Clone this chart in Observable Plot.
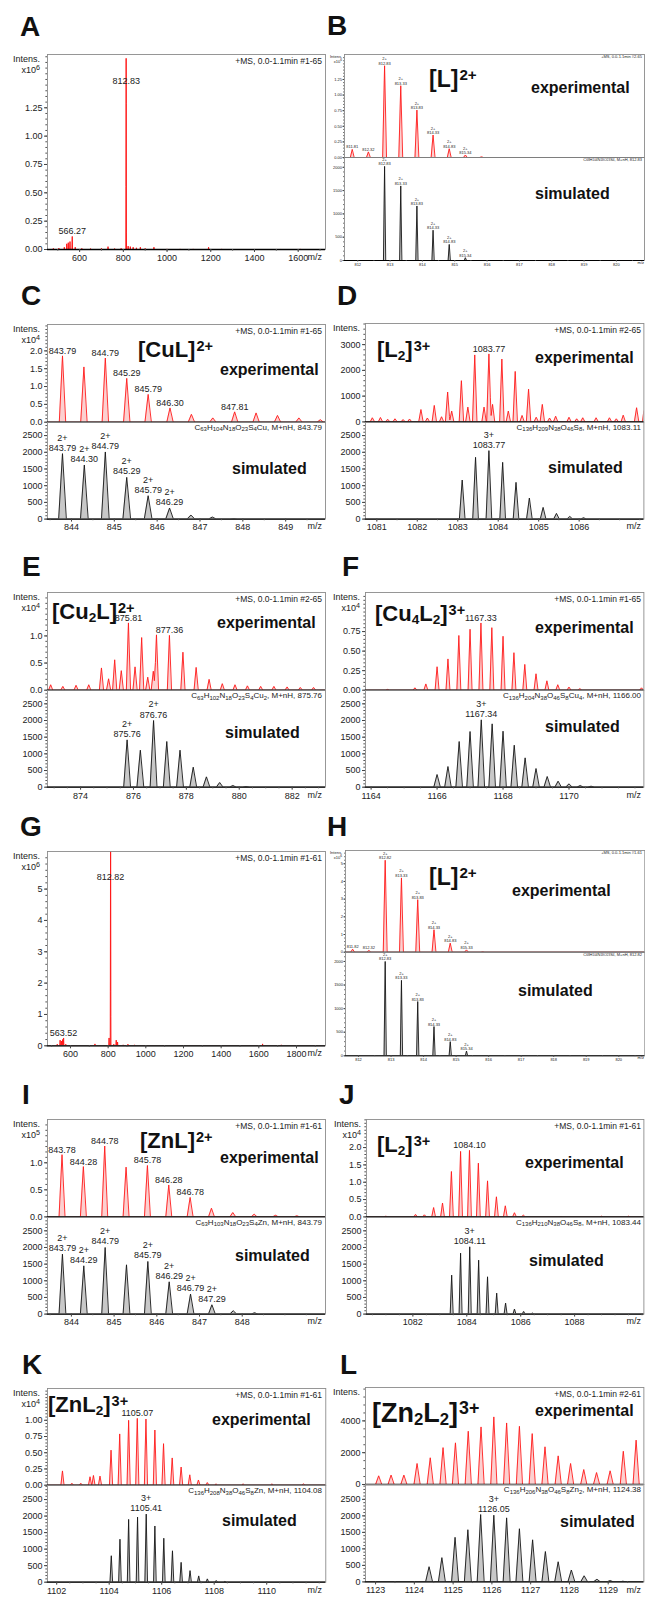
<!DOCTYPE html>
<html><head><meta charset="utf-8">
<script src="https://cdn.jsdelivr.net/npm/d3@7"></script>
<script src="https://cdn.jsdelivr.net/npm/@observablehq/plot@0.6"></script>
<style>
html,body{margin:0;padding:0;background:#fff;}
#fig{position:relative;width:645px;height:1597px;overflow:hidden;font-family:"Liberation Sans",Arial,sans-serif;background:#fff;}
.t{position:absolute;white-space:nowrap;line-height:1;color:#111;}
.b{font-weight:bold;}
.ion sup{font-size:0.66em;position:relative;top:-0.45em;vertical-align:baseline;margin-left:1px;}
.ion sub{font-size:0.62em;position:relative;top:0.18em;vertical-align:baseline;}
.sm{color:#222;}
.sm sub{font-size:0.75em;position:relative;top:0.25em;vertical-align:baseline;}
.sm sup{font-size:0.8em;position:relative;top:-0.45em;vertical-align:baseline;}
</style></head>
<body><div id="fig"></div>
<script>
// ---------------- data ----------------
// A: full scan (x10^6)
const aMz  = [480, 505, 530, 541, 548, 556, 566.27, 580, 610, 650, 700, 730, 760, 790, 812.83, 813.33, 822, 832, 845, 860, 878, 900, 940, 1000, 1060, 1120, 1190, 1250, 1400, 1520, 1610];
const aInt = [0.01, 0.012, 0.02, 0.05, 0.06, 0.07, 0.115, 0.02, 0.01, 0.008, 0.01, 0.025, 0.008, 0.01, 1.44, 0.40, 0.03, 0.025, 0.02, 0.015, 0.02, 0.01, 0.02, 0.005, 0.005, 0.005, 0.02, 0.005, 0.004, 0.004, 0.005];
const aLabels = [[812.83, "812.83"], [566.27, "566.27"]];
// B: [L]2+ zoom (x10^6 / simulated)
const bExpMz  = [811.83, 812.33, 812.83, 813.33, 813.83, 814.33, 814.83, 815.33, 815.83];
const bExpInt = [0.13, 0.09, 1.47, 1.15, 0.76, 0.36, 0.14, 0.04, 0.01];
const bSimMz  = [812.83, 813.33, 813.83, 814.33, 814.83, 815.33];
const bSimInt = [2020, 1600, 1170, 650, 345, 60];
// C: [CuL]2+
const cExpMz  = [843.79, 844.29, 844.79, 845.29, 845.79, 846.30, 846.80, 847.30, 847.81, 848.31, 848.81, 849.31, 849.81];
const cExpInt = [1.86, 1.55, 1.80, 1.23, 0.78, 0.40, 0.22, 0.12, 0.29, 0.26, 0.19, 0.12, 0.07];
const cSimMz  = [843.79, 844.30, 844.79, 845.29, 845.79, 846.29, 846.79, 847.29, 847.79];
const cSimInt = [1960, 1620, 2010, 1250, 700, 330, 120, 60, 15];
// D: [L2]3+
const dExpMz  = [1080.89, 1081.09, 1081.27, 1081.45, 1081.65, 1081.81, 1082.09, 1082.25, 1082.42, 1082.60, 1082.75, 1082.85, 1083.09, 1083.25, 1083.42, 1083.65, 1083.77, 1083.86, 1084.09, 1084.25, 1084.42, 1084.59, 1084.75, 1084.94, 1085.09, 1085.27, 1085.42, 1085.75, 1085.94, 1086.09, 1086.42, 1086.75, 1086.92, 1087.09, 1087.42, 1087.62];
const dExpInt = [160, 170, 100, 120, 90, 110, 480, 150, 640, 200, 1160, 420, 1600, 575, 2600, 575, 2640, 680, 2440, 420, 1960, 250, 1270, 180, 680, 150, 220, 180, 120, 160, 160, 160, 120, 260, 550, 680];
const dSimMz  = [1083.11, 1083.44, 1083.77, 1084.11, 1084.44, 1084.77, 1085.11, 1085.44, 1085.77, 1086.11];
const dSimInt = [1170, 1850, 2050, 1700, 1100, 630, 350, 170, 80, 40];
// E: [Cu2L]2+
const eExpMz  = [872.87, 873.33, 873.83, 874.31, 874.79, 875.06, 875.29, 875.54, 875.81, 876.06, 876.31, 876.54, 876.75, 876.87, 877.36, 877.87, 878.37, 878.86, 879.36, 879.84, 880.31, 880.81, 881.31, 881.81, 882.31, 882.81];
const eExpInt = [0.10, 0.07, 0.09, 0.10, 0.41, 0.21, 0.56, 0.36, 1.24, 0.43, 0.97, 0.24, 0.35, 1.02, 1.01, 0.70, 0.42, 0.20, 0.12, 0.10, 0.08, 0.07, 0.07, 0.06, 0.05, 0.05];
const eSimMz  = [875.76, 876.26, 876.76, 877.26, 877.76, 878.26, 878.76, 879.26, 879.76, 880.26];
const eSimInt = [1420, 1110, 2000, 1370, 1110, 600, 310, 140, 50, 20];
// F: [Cu4L2]3+
const fExpMz  = [1164.50, 1165.33, 1165.66, 1166.00, 1166.33, 1166.66, 1167.00, 1167.33, 1167.66, 1168.00, 1168.33, 1168.66, 1169.00, 1169.33, 1169.66, 1170.00, 1170.33, 1172.20];
const fExpInt = [0.01, 0.03, 0.08, 0.30, 0.40, 0.70, 0.78, 0.86, 0.80, 0.69, 0.48, 0.33, 0.21, 0.12, 0.07, 0.04, 0.02, 0.03];
const fSimMz  = [1166.00, 1166.33, 1166.67, 1167.00, 1167.34, 1167.67, 1168.00, 1168.34, 1168.67, 1169.00, 1169.34, 1169.67, 1170.00, 1170.34, 1170.67];
const fSimInt = [380, 620, 1370, 1670, 2020, 1900, 1680, 1260, 880, 560, 320, 180, 100, 50, 30];
// G: full scan (x10^6)
const gMz  = [500, 530, 545, 552, 558, 563.52, 575, 620, 700, 730, 780, 805, 812.82, 813.32, 830, 843, 850, 880, 905, 940, 1090, 1250, 1620, 1720];
const gInt = [0.02, 0.05, 0.18, 0.15, 0.20, 0.25, 0.05, 0.02, 0.02, 0.06, 0.02, 0.25, 5.23, 2.80, 0.05, 0.18, 0.12, 0.03, 0.05, 0.03, 0.02, 0.01, 0.06, 0.03];
const gLabels = [[812.82, "812.82"], [563.52, "563.52"]];
// H: [L]2+ zoom
const hExpMz  = [811.82, 812.32, 812.82, 813.32, 813.82, 814.32, 814.82, 815.32, 815.82];
const hExpInt = [0.17, 0.10, 5.20, 4.20, 2.97, 1.27, 0.51, 0.13, 0.02];
const hSimMz  = [812.82, 813.32, 813.82, 814.32, 814.82, 815.32];
const hSimInt = [2000, 1600, 1150, 620, 300, 100];
// I: [ZnL]2+
const iExpMz  = [843.78, 844.28, 844.78, 845.28, 845.78, 846.28, 846.78, 847.28, 847.78, 848.28, 848.78, 849.28];
const iExpInt = [1.15, 0.93, 1.31, 0.92, 0.95, 0.59, 0.36, 0.16, 0.08, 0.05, 0.03, 0.02];
const iSimMz  = [843.79, 844.29, 844.79, 845.29, 845.79, 846.29, 846.79, 847.29, 847.79, 848.29];
const iSimInt = [1800, 1450, 2000, 1480, 1580, 970, 600, 280, 100, 40];
// J: [L2]3+
const jExpMz  = [1081.00, 1082.10, 1082.43, 1082.77, 1083.10, 1083.43, 1083.77, 1084.10, 1084.43, 1084.77, 1085.10, 1085.43, 1085.77, 1086.10, 1087.50, 1089.00, 1090.00];
const jExpInt = [0.02, 0.07, 0.06, 0.27, 0.40, 1.31, 1.89, 1.92, 1.55, 1.04, 0.58, 0.32, 0.12, 0.05, 0.01, 0.02, 0.02];
const jSimMz  = [1083.44, 1083.77, 1084.11, 1084.44, 1084.77, 1085.11, 1085.44, 1085.77, 1086.11, 1086.44];
const jSimInt = [1170, 1830, 2020, 1620, 1120, 630, 330, 150, 80, 30];
// K: [ZnL2]3+
const kExpMz  = [1102.22, 1102.58, 1102.92, 1103.27, 1103.40, 1103.65, 1104.07, 1104.40, 1104.74, 1105.07, 1105.40, 1105.74, 1106.07, 1106.40, 1106.74, 1107.07, 1107.40, 1107.74, 1108.07, 1109.10, 1110.20, 1111.40];
const kExpInt = [0.22, 0.03, 0.03, 0.13, 0.15, 0.14, 0.54, 0.79, 1.00, 1.03, 1.02, 0.85, 0.64, 0.42, 0.28, 0.16, 0.08, 0.04, 0.02, 0.02, 0.02, 0.02];
const kSimMz  = [1104.08, 1104.41, 1104.74, 1105.08, 1105.41, 1105.74, 1106.08, 1106.41, 1106.74, 1107.08, 1107.41, 1107.74, 1108.08, 1108.41];
const kSimInt = [800, 1300, 1900, 1970, 2060, 1700, 1330, 950, 600, 350, 190, 100, 50, 25];
// L: [Zn2L2]3+
const lExpMz  = [1123.08, 1123.40, 1123.73, 1124.07, 1124.41, 1124.74, 1125.06, 1125.39, 1125.72, 1126.05, 1126.38, 1126.71, 1127.04, 1127.37, 1127.71, 1128.03, 1128.37, 1128.70, 1129.05, 1129.39, 1129.72];
const lExpInt = [545, 590, 590, 1320, 1680, 2320, 2620, 3350, 3620, 4250, 3870, 3660, 3200, 2370, 1800, 1320, 940, 750, 860, 2090, 2790];
const lSimMz  = [1124.38, 1124.71, 1125.05, 1125.38, 1125.71, 1126.05, 1126.38, 1126.71, 1127.05, 1127.38, 1127.71, 1128.05, 1128.38, 1128.71, 1129.05, 1129.38];
const lSimInt = [460, 735, 1350, 1580, 2040, 2020, 1940, 1610, 1275, 920, 610, 360, 185, 80, 40, 20];

// tick label sets
const simTicks = [0, 500, 1000, 1500, 2000, 2500];
const fullTicksA = [600, 800, 1000, 1200, 1400, 1600];
const fullTicksG = [600, 800, 1000, 1200, 1400, 1600, 1800];

// ---------------- rendering helpers ----------------
const fig = document.getElementById("fig");
const FONT = "Liberation Sans, Arial, sans-serif";
const f0 = d => String(d), f1 = d => d.toFixed(1), f2 = d => d.toFixed(2);

function profile(mz, inten, w, dom) {
  const xs = new Set([dom[0], dom[1]]);
  mz.forEach(m => { xs.add(m - w); xs.add(m); xs.add(m + w); });
  const arr = [...xs].filter(x => x >= dom[0] && x <= dom[1]).sort((a, b) => a - b);
  return arr.map(x => ({mz: x, i: d3.sum(mz, (m, k) => Math.max(0, 1 - Math.abs(x - m) / w) * inten[k])}));
}
function peakAt(mz, inten, m) {
  let best = 0;
  mz.forEach((v, k) => { if (Math.abs(v - m) < Math.abs(mz[best] - m)) best = k; });
  return inten[best];
}
function half(o) {
  const [x0, y0, x1, y1] = o.box;
  const fs = o.fs || 9, tk = o.tk || 3, tp = o.tp || 2;
  const ml = 40, mr = 4, mt = 4, mb = o.xTicks ? 18 : 4;
  const exp = o.kind === "exp";
  const stroke = exp ? "#ff1a1a" : "#151515";
  const fill = exp ? "#fcd0d0" : "#c8c8c8";
  const data = profile(o.mz, o.int, o.w, o.xDomain);
  const labs = (o.labels || []).map(([m, t]) => ({mz: m, i: peakAt(o.mz, o.int, m), t}));
  const yMinor = d3.range(0, o.yDomain[1], o.yStep);
  const marks = [
    Plot.areaY(data, {x: "mz", y: "i", fill, clip: true}),
    Plot.lineY(data, {x: "mz", y: "i", stroke, strokeWidth: o.sw || 0.9, clip: true}),
    Plot.frame({stroke: "#8c8c8c", strokeWidth: 0.9}),
    Plot.ruleY([0], {stroke: "#000", strokeWidth: o.rw || 1.3}),
    Plot.axisY(yMinor, {tickFormat: () => "", tickSize: tk * 0.55, label: null, stroke: "#555"}),
    Plot.axisY(o.yTicks, {tickFormat: o.yFmt || f0, tickSize: tk, tickPadding: tp, label: null, fontSize: fs, stroke: "#444", fill: "#222"}),
    Plot.text(labs, {x: "mz", y: "i", text: "t", dy: o.ldy || -2, lineAnchor: "bottom", fontSize: fs, lineHeight: 1.12, fill: "#222"})
  ];
  if (o.xTicks) {
    const xMinor = d3.range(Math.ceil(o.xDomain[0] / o.xStep) * o.xStep, o.xDomain[1], o.xStep);
    marks.push(
      Plot.axisX(xMinor, {tickFormat: () => "", tickSize: tk * 0.55, label: null, stroke: "#555"}),
      Plot.axisX(o.xTicks, {tickFormat: f0, tickSize: tk, tickPadding: tp, label: null, fontSize: fs, stroke: "#444", fill: "#222"})
    );
  }
  const xOpts = {domain: o.xDomain, label: null};
  if (!o.xTicks) xOpts.axis = null;
  const svg = Plot.plot({
    width: x1 - x0 + ml + mr, height: y1 - y0 + mt + mb,
    marginLeft: ml, marginRight: mr, marginTop: mt, marginBottom: mb,
    x: xOpts, y: {domain: o.yDomain, label: null},
    style: {background: "transparent", overflow: "visible", fontFamily: FONT, fontSize: fs + "px", color: "#333"},
    marks
  });
  svg.style.position = "absolute";
  svg.style.left = (x0 - ml) + "px";
  svg.style.top = (y0 - mt) + "px";
  svg.style.maxWidth = "none";
  fig.appendChild(svg);
}
function T(html, x, base, size, cls, anchor) {
  const d = document.createElement("div");
  d.className = "t " + (cls || "");
  d.innerHTML = html;
  d.style.fontSize = size + "px";
  d.style.left = x + "px";
  d.style.top = (base - 0.8465 * size) + "px";
  if (anchor === "end") d.style.transform = "translateX(-100%)";
  if (anchor === "middle") d.style.transform = "translateX(-50%)";
  fig.appendChild(d);
}
const F = s => s.replace(/([A-Za-z])(\d+)/g, "$1<sub>$2</sub>");

// ---------------- panels ----------------
// A
half({box: [47, 54, 325, 249], xDomain: [453, 1725], yDomain: [0, 1.72], yTicks: [0, 0.25, 0.5, 0.75, 1, 1.25], yFmt: f2, yStep: 0.05,
  xTicks: fullTicksA, xStep: 100, mz: aMz, int: aInt, w: 1.3, kind: "exp", labels: aLabels, sw: 1});
// B
half({box: [344, 54, 644, 157], xDomain: [811.59, 820.87], yDomain: [0, 1.65], yTicks: [0, 0.25, 0.5, 0.75, 1, 1.25], yFmt: f2, yStep: 0.05,
  mz: bExpMz, int: bExpInt, w: 0.06, kind: "exp", fs: 4, tk: 1.5, tp: 1, rw: 1, ldy: -1,
  labels: [[811.83, "811.81"], [812.33, "812.32"], [812.83, "2+\n812.83"], [813.33, "2+\n813.33"], [813.83, "2+\n813.83"], [814.33, "2+\n814.33"], [814.83, "2+\n814.83"], [815.33, "2+\n815.34"]]});
half({box: [344, 157, 644, 260], xDomain: [811.59, 820.87], yDomain: [0, 2210], yTicks: [0, 500, 1000, 1500, 2000], yStep: 100,
  xTicks: [812, 813, 814, 815, 816, 817, 818, 819, 820], xStep: 0.5, mz: bSimMz, int: bSimInt, w: 0.035, kind: "sim", fs: 4, tk: 1.5, tp: 1, rw: 1, ldy: -1,
  labels: [[812.83, "2+\n812.83"], [813.33, "2+\n813.33"], [813.83, "2+\n813.83"], [814.33, "2+\n814.33"], [814.83, "2+\n814.83"], [815.33, "2+\n815.34"]]});
// C
half({box: [47, 324, 325, 421.7], xDomain: [843.44, 849.93], yDomain: [0, 2.74], yTicks: [0, 0.5, 1, 1.5, 2], yFmt: f1, yStep: 0.1,
  mz: cExpMz, int: cExpInt, w: 0.075, kind: "exp",
  labels: [[843.79, "843.79"], [844.79, "844.79"], [845.29, "845.29"], [845.79, "845.79"], [846.30, "846.30"], [847.81, "847.81"]]});
half({box: [47, 421.7, 325, 518.3], xDomain: [843.44, 849.93], yDomain: [0, 2892], yTicks: simTicks, yStep: 100,
  xTicks: [844, 845, 846, 847, 848, 849], xStep: 0.5, mz: cSimMz, int: cSimInt, w: 0.09, kind: "sim", ldy: -3,
  labels: [[843.79, "2+\n843.79"], [844.30, "2+\n844.30"], [844.79, "2+\n844.79"], [845.29, "2+\n845.29"], [845.79, "2+\n845.79"], [846.29, "2+\n846.29"]]});
// D
half({box: [365.3, 323.3, 643.7, 421.7], xDomain: [1080.72, 1087.60], yDomain: [0, 3820], yTicks: [0, 1000, 2000, 3000], yStep: 200,
  mz: dExpMz, int: dExpInt, w: 0.055, kind: "exp", labels: [[1083.77, "1083.77"]]});
half({box: [365.3, 421.7, 643.7, 518.3], xDomain: [1080.72, 1087.60], yDomain: [0, 2892], yTicks: simTicks, yStep: 100,
  xTicks: [1081, 1082, 1083, 1084, 1085, 1086], xStep: 0.5, mz: dSimMz, int: dSimInt, w: 0.07, kind: "sim", ldy: -3,
  labels: [[1083.77, "3+\n1083.77"]]});
// E
half({box: [47, 592.3, 325, 690], xDomain: [872.75, 883.26], yDomain: [0, 1.80], yTicks: [0, 0.5, 1.0], yFmt: f1, yStep: 0.1,
  mz: eExpMz, int: eExpInt, w: 0.08, kind: "exp", labels: [[875.81, "875.81"], [877.36, "877.36"]]});
half({box: [47, 690, 325, 786.7], xDomain: [872.75, 883.26], yDomain: [0, 2900], yTicks: simTicks, yStep: 100,
  xTicks: [874, 876, 878, 880, 882], xStep: 0.5, mz: eSimMz, int: eSimInt, w: 0.13, kind: "sim", ldy: -3,
  labels: [[875.76, "2+\n875.76"], [876.76, "2+\n876.76"]]});
// F
half({box: [365.3, 592.3, 643.7, 690], xDomain: [1163.83, 1172.27], yDomain: [0, 1.25], yTicks: [0, 0.25, 0.5, 0.75], yFmt: f2, yStep: 0.05,
  mz: fExpMz, int: fExpInt, w: 0.06, kind: "exp", labels: [[1167.33, "1167.33"]]});
half({box: [365.3, 690, 643.7, 786.7], xDomain: [1163.83, 1172.27], yDomain: [0, 2900], yTicks: simTicks, yStep: 100,
  xTicks: [1164, 1166, 1168, 1170], xStep: 0.5, mz: fSimMz, int: fSimInt, w: 0.1, kind: "sim", ldy: -3,
  labels: [[1167.34, "3+\n1167.34"]]});
// G
half({box: [47, 850.7, 325, 1045], xDomain: [478, 1954], yDomain: [0, 6.2], yTicks: [0, 1, 2, 3, 4, 5], yStep: 0.2,
  xTicks: fullTicksG, xStep: 100, mz: gMz, int: gInt, w: 1.5, kind: "exp", labels: gLabels, sw: 1});
// H
half({box: [344.7, 850, 644, 951.7], xDomain: [811.6, 820.8], yDomain: [0, 5.75], yTicks: [0, 1, 2, 3, 4, 5], yStep: 0.2,
  mz: hExpMz, int: hExpInt, w: 0.06, kind: "exp", fs: 4, tk: 1.5, tp: 1, rw: 1, ldy: -1,
  labels: [[811.82, "811.82"], [812.32, "812.32"], [812.82, "2+\n812.82"], [813.32, "2+\n813.33"], [813.82, "2+\n813.83"], [814.32, "2+\n814.33"], [814.82, "2+\n814.83"], [815.32, "2+\n815.33"]]});
half({box: [344.7, 951.7, 644, 1055], xDomain: [811.6, 820.8], yDomain: [0, 2190], yTicks: [0, 500, 1000, 1500, 2000], yStep: 100,
  xTicks: [812, 813, 814, 815, 816, 817, 818, 819, 820], xStep: 0.5, mz: hSimMz, int: hSimInt, w: 0.035, kind: "sim", fs: 4, tk: 1.5, tp: 1, rw: 1, ldy: -1,
  labels: [[812.82, "2+\n812.83"], [813.32, "2+\n813.33"], [813.82, "2+\n813.83"], [814.32, "2+\n814.33"], [814.82, "2+\n814.83"], [815.32, "2+\n815.34"]]});
// I
half({box: [47, 1119.3, 325, 1216.7], xDomain: [843.44, 849.95], yDomain: [0, 1.80], yTicks: [0, 0.5, 1.0], yFmt: f1, yStep: 0.1,
  mz: iExpMz, int: iExpInt, w: 0.07, kind: "exp",
  labels: [[843.78, "843.78"], [844.28, "844.28"], [844.78, "844.78"], [845.78, "845.78"], [846.28, "846.28"], [846.78, "846.78"]]});
half({box: [47, 1216.7, 325, 1313.3], xDomain: [843.44, 849.95], yDomain: [0, 2900], yTicks: simTicks, yStep: 100,
  xTicks: [844, 845, 846, 847, 848], xStep: 0.5, mz: iSimMz, int: iSimInt, w: 0.08, kind: "sim", ldy: -3,
  labels: [[843.79, "2+\n843.79"], [844.29, "2+\n844.29"], [844.79, "2+\n844.79"], [845.79, "2+\n845.79"], [846.29, "2+\n846.29"], [846.79, "2+\n846.79"], [847.29, "2+\n847.29"]]});
// J
half({box: [366.3, 1119.3, 643.7, 1216.7], xDomain: [1080.28, 1090.57], yDomain: [0, 2.81], yTicks: [0, 0.5, 1.0, 1.5, 2.0], yFmt: f1, yStep: 0.1,
  mz: jExpMz, int: jExpInt, w: 0.07, kind: "exp", labels: [[1084.10, "1084.10"]]});
half({box: [366.3, 1216.7, 643.7, 1313.3], xDomain: [1080.28, 1090.57], yDomain: [0, 2900], yTicks: simTicks, yStep: 100,
  xTicks: [1082, 1084, 1086, 1088], xStep: 0.5, mz: jSimMz, int: jSimInt, w: 0.055, kind: "sim", ldy: -3,
  labels: [[1084.11, "3+\n1084.11"]]});
// K
half({box: [46.7, 1388.3, 325, 1485], xDomain: [1101.65, 1112.25], yDomain: [0, 1.49], yTicks: [0, 0.25, 0.5, 0.75, 1.0], yFmt: f2, yStep: 0.05,
  mz: kExpMz, int: kExpInt, w: 0.06, kind: "exp", labels: [[1105.07, "1105.07"]], ldy: -2});
half({box: [46.7, 1485, 325, 1581.7], xDomain: [1101.65, 1112.25], yDomain: [0, 2925], yTicks: simTicks, yStep: 100,
  xTicks: [1102, 1104, 1106, 1108, 1110], xStep: 0.5, mz: kSimMz, int: kSimInt, w: 0.05, kind: "sim", ldy: -3,
  labels: [[1105.41, "3+\n1105.41"]]});
// L
half({box: [365.3, 1387.3, 643.7, 1484.3], xDomain: [1122.74, 1129.92], yDomain: [0, 6100], yTicks: [0, 2000, 4000], yStep: 500,
  mz: lExpMz, int: lExpInt, w: 0.08, kind: "exp", labels: []});
half({box: [365.3, 1484.3, 643.7, 1581.7], xDomain: [1122.74, 1129.92], yDomain: [0, 2950], yTicks: simTicks, yStep: 100,
  xTicks: [1123, 1124, 1125, 1126, 1127, 1128, 1129], xStep: 0.5, mz: lSimMz, int: lSimInt, w: 0.09, kind: "sim", ldy: -3,
  labels: [[1126.05, "3+\n1126.05"]]});

// ---------------- text ----------------
const letters = [["A", 20, 37], ["B", 327, 36], ["C", 21, 306], ["D", 337, 306], ["E", 22, 577], ["F", 342, 577],
  ["G", 20, 837], ["H", 327, 837], ["I", 22, 1105], ["J", 339, 1105], ["K", 22, 1375], ["L", 340, 1375]];
letters.forEach(([s, x, y]) => T(s, x, y, 28, "b"));

const ions = [["[L]<sup>2+</sup>", 429, 87, 23], ["[CuL]<sup>2+</sup>", 138, 358, 22], ["[L<sub>2</sub>]<sup>3+</sup>", 377, 358, 22],
  ["[Cu<sub>2</sub>L]<sup>2+</sup>", 52, 620, 22], ["[Cu<sub>4</sub>L<sub>2</sub>]<sup>3+</sup>", 375, 622, 22], ["[L]<sup>2+</sup>", 429, 885, 23],
  ["[ZnL]<sup>2+</sup>", 140, 1149, 22], ["[L<sub>2</sub>]<sup>3+</sup>", 377, 1153, 22], ["[ZnL<sub>2</sub>]<sup>3+</sup>", 48, 1413, 22],
  ["[Zn<sub>2</sub>L<sub>2</sub>]<sup>3+</sup>", 372, 1423, 27]];
ions.forEach(([s, x, y, sz]) => T(s, x, y, sz, "b ion"));

const kinds = [["experimental", 531, 94], ["simulated", 535, 200], ["experimental", 220, 376], ["simulated", 232, 475],
  ["experimental", 535, 364], ["simulated", 548, 474], ["experimental", 217, 629], ["simulated", 225, 739],
  ["experimental", 535, 634], ["simulated", 545, 733], ["experimental", 512, 897], ["simulated", 518, 997],
  ["experimental", 220, 1164], ["simulated", 235, 1262], ["experimental", 525, 1169], ["simulated", 529, 1267],
  ["experimental", 212, 1426], ["simulated", 222, 1527], ["experimental", 535, 1417], ["simulated", 560, 1528]];
kinds.forEach(([s, x, y]) => T(s, x, y, 16, "b"));

// Intens. / exponent labels
[[40, 63, "6"], [40, 333, "4"], [360, 332, null], [40, 601, "4"], [360, 601, "4"], [40, 860, "6"],
 [40, 1128, "5"], [361, 1128, "4"], [40, 1397, "4"], [360, 1396, null]].forEach(([x, y, e]) => {
  T("Intens.", x, y, 9, "sm", "end");
  if (e) T("x10<sup>" + e + "</sup>", x, y + 11, 9, "sm", "end");
});
T("Intens.", 342, 58, 4, "sm", "end"); T("x10<sup>6</sup>", 342, 63, 4, "sm", "end");
T("Intens.", 342, 854, 4, "sm", "end"); T("x10<sup>6</sup>", 342, 859, 4, "sm", "end");

// acquisition notes
[["+MS, 0.0-1.1min #1-65", 322, 64], ["+MS, 0.0-1.1min #1-65", 322, 334], ["+MS, 0.0-1.1min #2-65", 641, 333],
 ["+MS, 0.0-1.1min #2-65", 322, 602], ["+MS, 0.0-1.1min #1-65", 641, 602], ["+MS, 0.0-1.1min #1-61", 322, 861],
 ["+MS, 0.0-1.1min #1-61", 322, 1129], ["+MS, 0.0-1.1min #1-61", 641, 1129], ["+MS, 0.0-1.1min #1-61", 322, 1398],
 ["+MS, 0.0-1.1min #2-61", 641, 1397]].forEach(([s, x, y]) => T(s, x, y, 8.5, "sm", "end"));
T("+MS, 0.0-1.1min #2-65", 642, 58, 4, "sm", "end");
T("+MS, 0.0-1.1min #1-61", 642, 854, 4, "sm", "end");

// formulas
[["C63H104N18O23S4Cu, M+nH, 843.79", 322, 430.5], ["C136H209N38O46S8, M+nH, 1083.11", 641, 430.5],
 ["C63H102N18O23S4Cu2, M+nH, 875.76", 322, 699], ["C136H204N38O46S8Cu4, M+nH, 1166.00", 641, 699],
 ["C63H103N18O23S4Zn, M+nH, 843.79", 322, 1225.5], ["C136H210N38O46S8, M+nH, 1083.44", 641, 1225.5],
 ["C136H208N38O46S8Zn, M+nH, 1104.08", 322, 1494], ["C136H206N38O46S8Zn2, M+nH, 1124.38", 641, 1493]
].forEach(([s, x, y]) => T(F(s), x, y, 8, "sm", "end"));
T(F("C68H104N18O23S4, M+nH, 812.83"), 642, 161, 4, "sm", "end");
T(F("C68H104N18O23S4, M+nH, 812.82"), 642, 956, 4, "sm", "end");

// m/z axis titles
[[322, 261], [322, 530], [641, 530], [322, 799], [641, 799], [322, 1057], [322, 1325], [641, 1325], [322, 1594], [641, 1594]]
  .forEach(([x, y]) => T("m/z", x, y, 9, "sm", "end"));
T("m/z", 644, 264, 4, "sm", "end"); T("m/z", 644, 1059, 4, "sm", "end");
</script></body></html>
